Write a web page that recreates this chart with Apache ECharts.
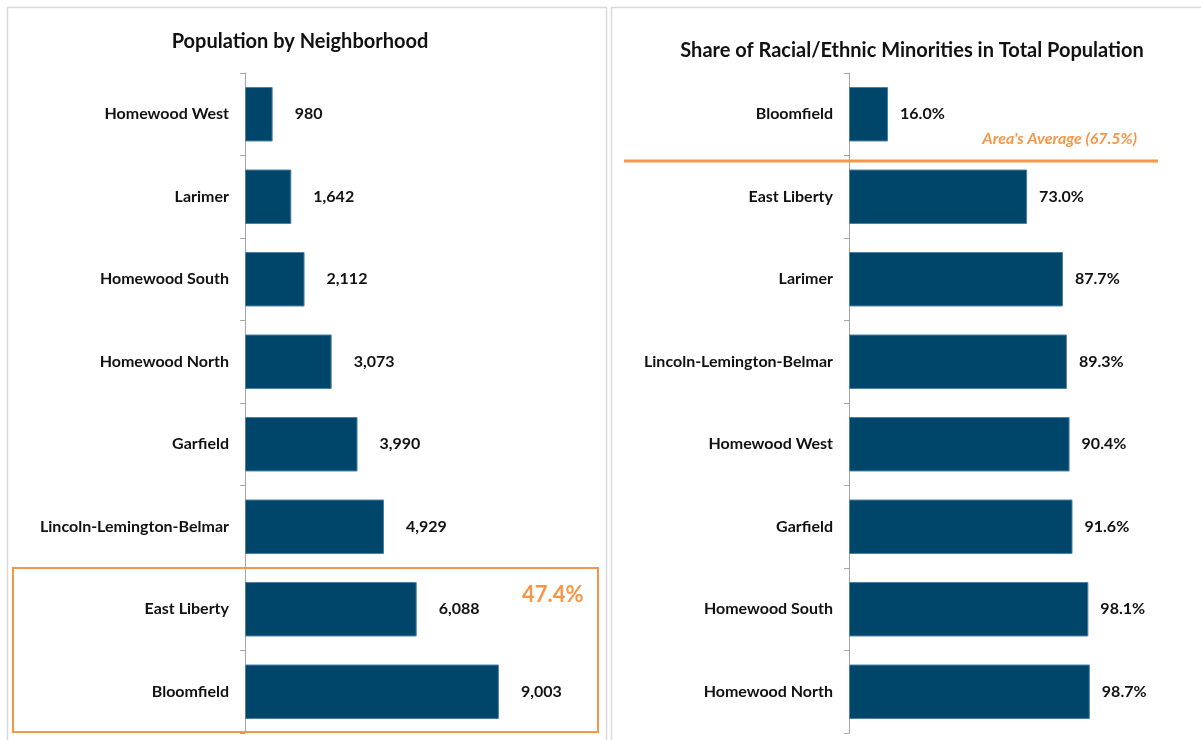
<!DOCTYPE html>
<html>
<head>
<meta charset="utf-8">
<script src="https://cdn.jsdelivr.net/npm/echarts@6/dist/echarts.min.js"></script>
<style>
  html, body { margin: 0; padding: 0; background: #fff; }
  #main { width: 1201px; height: 740px; }
</style>
</head>
<body>
<div id="main"></div>
<script>
// 左图: 人口
const popNames = ['Homewood West', 'Larimer', 'Homewood South', 'Homewood North',
  'Garfield', 'Lincoln-Lemington-Belmar', 'East Liberty', 'Bloomfield']
const popValues = [980, 1642, 2112, 3073, 3990, 4929, 6088, 9003]
const popShare = '47.4%'   // East Liberty + Bloomfield

// 右图: 少数族裔占比
const minNames = ['Bloomfield', 'East Liberty', 'Larimer', 'Lincoln-Lemington-Belmar',
  'Homewood West', 'Garfield', 'Homewood South', 'Homewood North']
const minValues = [16.0, 73.0, 87.7, 89.3, 90.4, 91.6, 98.1, 98.7]
const areaAvg = 67.5

const barColor = '#00466b'
const orange = '#f79646'
const font = 'Lato, "Noto Sans", sans-serif'

function catAxis(names, idx) {
  return {
    type: 'category',
    gridIndex: idx,
    data: names,
    inverse: true,
    axisLine: { lineStyle: { color: '#a6a6a6', width: 1 } },
    axisTick: { show: true, length: 5, lineStyle: { color: '#a6a6a6' } },
    axisLabel: { color: '#111', fontWeight: 'bold', fontSize: 16, fontFamily: font, margin: 16 }
  }
}

function barSeries(values, idx, fmt, dist) {
  return {
    type: 'bar',
    xAxisIndex: idx,
    yAxisIndex: idx,
    data: values,
    barCategoryGap: '34%',
    itemStyle: { color: barColor, borderColor: '#4a7fa6', borderWidth: 1 },
    label: {
      show: true,
      position: 'right',
      distance: dist,
      formatter: fmt,
      color: '#111',
      fontWeight: 'bold',
      fontSize: 16,
      fontFamily: font
    }
  }
}

let option = {
  animation: false,
  title: [
    {
      text: 'Population by Neighborhood',
      left: 295, top: 27, textAlign: 'center',
      textStyle: { fontSize: 20, fontWeight: 'bold', color: '#111', fontFamily: font }
    },
    {
      text: 'Share of Racial/Ethnic Minorities in Total Population',
      left: 907, top: 36, textAlign: 'center',
      textStyle: { fontSize: 20, fontWeight: 'bold', color: '#111', fontFamily: font }
    }
  ],
  grid: [
    { left: 245, top: 73, width: 282, height: 660 },
    { left: 849, top: 73, width: 244, height: 660 }
  ],
  xAxis: [
    { type: 'value', gridIndex: 0, min: 0, max: 10000, show: false, splitLine: { show: false } },
    { type: 'value', gridIndex: 1, min: 0, max: 100, show: false, splitLine: { show: false } }
  ],
  yAxis: [catAxis(popNames, 0), catAxis(minNames, 1)],
  series: [
    barSeries(popValues, 0, p => p.value.toLocaleString('en-US'), 22),
    barSeries(minValues, 1, p => p.value.toFixed(1) + '%', 12)
  ],
  graphic: [
    // 面板边框
    { type: 'rect', shape: { x: 7.5, y: 7.5, width: 599, height: 760 },
      style: { fill: null, stroke: '#d9d9d9', lineWidth: 1.5 }, silent: true },
    { type: 'rect', shape: { x: 611.5, y: 7.5, width: 600, height: 760 },
      style: { fill: null, stroke: '#d9d9d9', lineWidth: 1.5 }, silent: true },
    // 橙色框
    { type: 'rect', shape: { x: 13, y: 568, width: 585, height: 164 },
      style: { fill: null, stroke: orange, lineWidth: 2 }, z: 10, silent: true },
    { type: 'text', left: 522, top: 584,
      style: { text: popShare, fill: orange, font: 'bold 22px ' + font }, z: 10 },
    // 平均线
    { type: 'line', shape: { x1: 624, y1: 161, x2: 1158, y2: 161 },
      style: { stroke: orange, lineWidth: 3 }, z: 10, silent: true },
    { type: 'text', x: 1137, y: 139,
      style: { text: "Area's Average (" + areaAvg.toFixed(1) + '%)', fill: orange,
        font: 'italic bold 16px ' + font, align: 'right', verticalAlign: 'middle' }, z: 10 }
  ]
}

echarts.init(document.getElementById('main')).setOption(option)
</script>
</body>
</html>
